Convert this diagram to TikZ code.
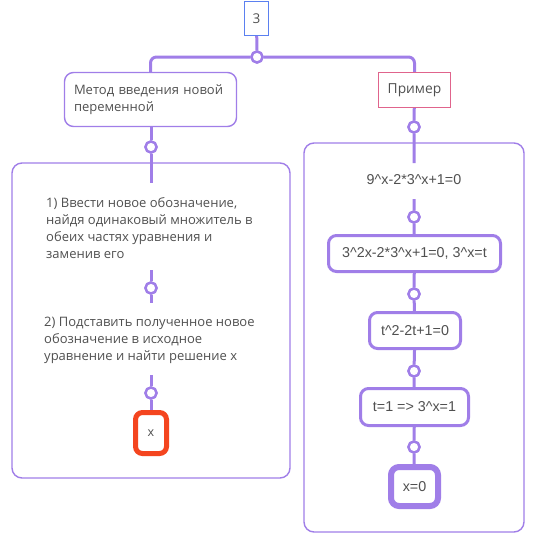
\documentclass[tikz,border=0pt]{standalone}
\usepackage{fontspec}
\setmainfont{Open Sans}
\newfontfamily\formfont{Liberation Sans}
\newcommand\crt{\textasciicircum}
\definecolor{pur}{HTML}{A07EE8}
\definecolor{pinkb}{HTML}{E0648C}
\definecolor{blueb}{HTML}{5B80F0}
\definecolor{redb}{HTML}{F4451F}
\definecolor{txtc}{HTML}{505050}
\begin{document}
\begin{tikzpicture}[x=1pt,y=-1pt,
  conn/.style={draw=pur, line width=3pt},
  dot/.style={circle, draw=pur, line width=2.4pt, fill=white, minimum size=11pt, inner sep=0pt},
  cyr/.style={text=txtc, font=\fontsize{13}{17}\selectfont, align=left, inner sep=0pt},
  form/.style={text=txtc, font=\formfont\fontsize{14.3}{17}\selectfont, inner sep=0pt},
  cont/.style={draw=pur, line width=1.4pt, rounded corners=10pt, fill=white},
  fbox/.style={form, draw=pur, line width=3pt, rounded corners=8pt, fill=white}
]
\useasboundingbox (0,0) rectangle (535,544);
% containers
\node[cont, minimum width=278pt, minimum height=315pt] (lc) at (151,320.5) {};
\node[cont, minimum width=220pt, minimum height=389pt] (rc) at (414,337.5) {};
% top
\node[draw=blueb, line width=1.3pt, minimum width=24pt, minimum height=34pt, text=txtc,
      font=\fontsize{13.5}{15}\selectfont, inner sep=0pt, fill=white] (n3) at (256.5,18.5) {3};
\node[draw=pur, line width=1.4pt, rounded corners=9pt, minimum width=172pt, minimum height=54pt,
      cyr, text width=153pt, inner xsep=0pt, fill=white] (m) at (150.5,99.5) {Метод введения новой\\переменной};
\node[draw=pinkb, line width=1.3pt, minimum width=72pt, minimum height=35pt, text=txtc,
      font=\fontsize{13.8}{15}\selectfont, inner sep=0pt, fill=white] (p) at (414.5,90) {Пример};
\node[dot] (j) at (257,57) {};
\draw[conn] (n3) -- (j);
\draw[conn, rounded corners=6pt] (j) -| (m.north);
\draw[conn, rounded corners=6pt] (j) -| (p.north);
\node[dot] (j) at (257,57) {};
% left column
\node[dot] (c2) at (151,147) {};
\draw[conn] (m.south -| c2) -- (c2);
\coordinate (e1) at (151,183);
\draw[conn] (c2) -- (e1);
\node[dot] (c2) at (151,147) {};
\node[cyr, anchor=west] (t1) at (46,228) {1) Ввести новое обозначение,\\найдя одинаковый множитель в\\обеих частях уравнения и\\заменив его};
\coordinate (e2) at (151,270);
\coordinate (e3) at (151,303);
\node[dot] (c3) at (151,288) {};
\draw[conn] (e2) -- (c3) -- (e3);
\node[dot] (c3) at (151,288) {};
\node[cyr, anchor=west] (t2) at (44,340) {2) Подставить полученное новое\\обозначение в исходное\\уравнение и найти решение х};
\coordinate (e4) at (151,375);
\node[draw=redb, line width=5pt, rounded corners=7pt, minimum width=31pt, minimum height=41pt,
      text=txtc, font=\fontsize{12.5}{14}\selectfont, inner sep=0pt, fill=white] (xb) at (151,433) {x};
\node[dot] (c4) at (151,393) {};
\draw[conn] (e4) -- (c4) -- (xb);
\node[dot] (c4) at (151,393) {};
% right column
\node[dot] (c1) at (414,127) {};
\coordinate (e5) at (414,163);
\draw[conn] (p) -- (c1) -- (e5);
\node[dot] (c1) at (414,127) {};
\node[form] (r1) at (414,180) {9\crt x-2*3\crt x+1=0};
\coordinate (e6) at (414,199);
\node[fbox, minimum width=172pt, minimum height=36pt] (b2) at (414.5,253.5) {3\crt 2x-2*3\crt x+1=0, 3\crt x=t};
\node[fbox, minimum width=91pt, minimum height=36pt] (b3) at (415,330.5) {t\crt 2-2t+1=0};
\node[fbox, minimum width=108pt, minimum height=37pt] (b4) at (414.5,407) {t=1 => 3\crt x=1};
\node[fbox, line width=6pt, minimum width=47pt, minimum height=39pt] (b5) at (414.5,486.5) {x=0};
\node[dot] (c5) at (414,217) {};
\node[dot] (c6) at (414,294) {};
\node[dot] (c7) at (414,371) {};
\node[dot] (c8) at (414,447) {};
\draw[conn] (e6) -- (c5) -- (b2);
\draw[conn] (b2) -- (c6) -- (b3);
\draw[conn] (b3) -- (c7) -- (b4);
\draw[conn] (b4) -- (c8) -- (b5);
\foreach \c/\y in {c5/217,c6/294,c7/371,c8/447}{\node[dot] at (414,\y) {};}
\end{tikzpicture}
\end{document}
